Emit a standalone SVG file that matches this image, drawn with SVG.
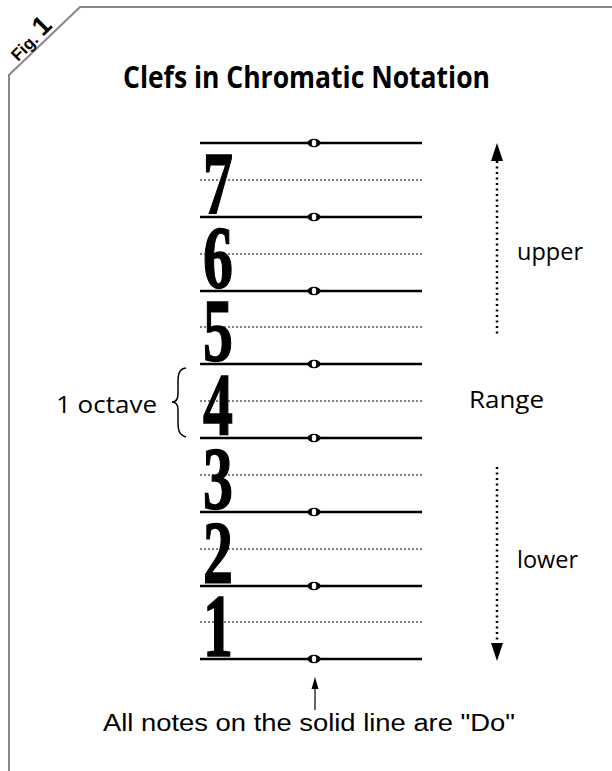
<svg xmlns="http://www.w3.org/2000/svg" width="612" height="771" viewBox="0 0 612 771">
<defs>
<style>
.solid{stroke:#000;stroke-width:2.5;fill:none}
.dot{stroke:#000;stroke-width:1;stroke-dasharray:2,2;fill:none}
.num{font-family:"Liberation Serif",serif;font-weight:bold;font-size:88px;fill:#000;stroke:#000;stroke-width:1.5}
.lbl{font-family:"Open Sans","Noto Sans",sans-serif;font-size:24px;fill:#000}
.darr{stroke:#000;stroke-width:2.5;stroke-dasharray:2,3.5;fill:none}
</style>
<g id="note">
<ellipse cx="0" cy="0" rx="6.5" ry="4.2" fill="#000"/>
<ellipse cx="0" cy="0" rx="2.2" ry="3.2" fill="#fff"/>
</g>
</defs>
<path d="M612,7 L80,7 L9,75 L9,771" fill="none" stroke="#888" stroke-width="2"/>
<g id="fig" transform="translate(18,62) rotate(-45)">
<text font-family="Liberation Sans,sans-serif" font-weight="bold" font-size="17" fill="#000">Fig. <tspan font-size="27">1</tspan></text>
</g>
<g id="title"><text x="123" y="88" font-family="Open Sans,sans-serif" font-weight="bold" font-size="31" textLength="367" lengthAdjust="spacingAndGlyphs" fill="#000">Clefs in Chromatic Notation</text></g>
<g id="staff">
<line class="solid" x1="200" y1="143" x2="422" y2="143"/>
<line class="solid" x1="200" y1="217" x2="422" y2="217"/>
<line class="solid" x1="200" y1="291" x2="422" y2="291"/>
<line class="solid" x1="200" y1="364" x2="422" y2="364"/>
<line class="solid" x1="200" y1="438" x2="422" y2="438"/>
<line class="solid" x1="200" y1="512" x2="422" y2="512"/>
<line class="solid" x1="200" y1="586" x2="422" y2="586"/>
<line class="solid" x1="200" y1="659" x2="422" y2="659"/>
<line class="dot" x1="200" y1="180" x2="422" y2="180"/>
<line class="dot" x1="200" y1="254" x2="422" y2="254"/>
<line class="dot" x1="200" y1="327" x2="422" y2="327"/>
<line class="dot" x1="200" y1="401" x2="422" y2="401"/>
<line class="dot" x1="200" y1="475" x2="422" y2="475"/>
<line class="dot" x1="200" y1="549" x2="422" y2="549"/>
<line class="dot" x1="200" y1="622" x2="422" y2="622"/>
</g>
<g id="notes">
<use href="#note" x="314" y="143"/>
<use href="#note" x="314" y="217"/>
<use href="#note" x="314" y="291"/>
<use href="#note" x="314" y="364"/>
<use href="#note" x="314" y="438"/>
<use href="#note" x="314" y="512"/>
<use href="#note" x="314" y="586"/>
<use href="#note" x="314" y="659"/>
</g>
<g id="numbers">
<text class="num" transform="translate(203,213) scale(0.68,1)">7</text>
<text class="num" transform="translate(203,287) scale(0.68,1)">6</text>
<text class="num" transform="translate(203,360) scale(0.68,1)">5</text>
<text class="num" transform="translate(203,434) scale(0.68,1)">4</text>
<text class="num" transform="translate(203,508) scale(0.68,1)">3</text>
<text class="num" transform="translate(203,582) scale(0.68,1)">2</text>
<text class="num" transform="translate(203,655) scale(0.68,1)">1</text>
</g>
<g id="octave">
<text class="lbl" x="56" y="413" textLength="101" lengthAdjust="spacingAndGlyphs">1 octave</text>
<path d="M186,368 C179,369 178,374 178,382 L178,394 C178,400 176,402 172,402 C176,402 178,404 178,410 L178,422 C178,430 179,435 186,437" fill="none" stroke="#000" stroke-width="1.5"/>
</g>
<g id="range">
<text class="lbl" x="469" y="408" textLength="75" lengthAdjust="spacingAndGlyphs">Range</text>
<text class="lbl" x="517" y="260" textLength="66" lengthAdjust="spacingAndGlyphs">upper</text>
<text class="lbl" x="517" y="568" textLength="61" lengthAdjust="spacingAndGlyphs">lower</text>
</g>
<g id="connectors">
<line class="darr" x1="497" y1="161" x2="497" y2="334"/>
<polygon points="497,143 491,161 503,161" fill="#000"/>
<line class="darr" x1="497" y1="467" x2="497" y2="643"/>
<polygon points="497,661 491,643 503,643" fill="#000"/>
<line x1="315" y1="710" x2="315" y2="686" stroke="#000" stroke-width="1.2"/>
<polygon points="315,677 311.5,689 318.5,689" fill="#000"/>
</g>
<g id="caption"><text x="103" y="731" font-family="Liberation Sans,sans-serif" font-size="23" textLength="412" lengthAdjust="spacingAndGlyphs" fill="#000">All notes on the solid line are "Do"</text></g>
</svg>
